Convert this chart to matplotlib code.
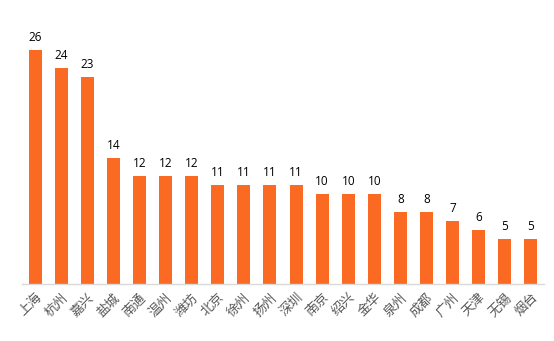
import matplotlib
matplotlib.use("Agg")
import matplotlib.pyplot as plt

plt.rcParams['font.family'] = ['Noto Sans CJK SC', 'DejaVu Sans']

cities = ["上海", "杭州", "嘉兴", "盐城", "南通", "温州", "潍坊", "北京", "徐州", "扬州",
          "深圳", "南京", "绍兴", "金华", "泉州", "成都", "广州", "天津", "无锡", "烟台"]
values = [26, 24, 23, 14, 12, 12, 12, 11, 11, 11, 11, 10, 10, 10, 8, 8, 7, 6, 5, 5]

fig = plt.figure(figsize=(5.54, 3.41), dpi=100)
ax = fig.add_axes([22/554, 57/341, 522/554, 270/341])
x = list(range(len(cities)))
ax.bar(x, values, width=0.5, color="#FA6A22")
for xi, v in zip(x, values):
    ax.text(xi, v + 0.7, str(v), ha="center", va="bottom", fontsize=8.5,
            family=["Open Sans", "DejaVu Sans"], color="#000000")
ax.set_xlim(-0.5, len(cities) - 0.5)
ax.set_ylim(0, 30)
ax.set_xticks(x)
ax.set_xticklabels(cities, rotation=45, ha="right", rotation_mode="anchor",
                   fontsize=9.5, color="#595959")
ax.tick_params(axis="x", length=0, pad=5)
ax.set_yticks([])
for s in ["top", "right", "left"]:
    ax.spines[s].set_visible(False)
ax.spines["bottom"].set_color("#D9D9D9")
ax.spines["bottom"].set_linewidth(1)
fig.savefig("out.png", dpi=100)
